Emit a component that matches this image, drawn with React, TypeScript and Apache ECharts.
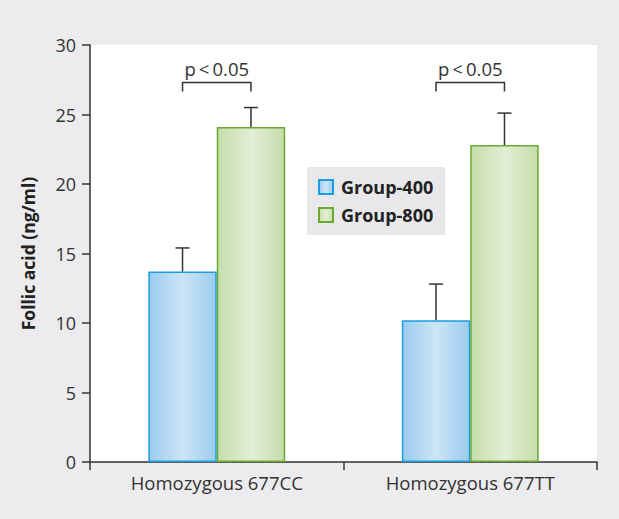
import React, { useEffect, useRef } from "react";
import * as echarts from "echarts";

const categories = ["Homozygous 677CC", "Homozygous 677TT"];
const group400 = [13.7, 10.2];
const group400Err = [15.4, 12.8];
const group800 = [24.1, 22.8];
const group800Err = [25.5, 25.1];
const bracketY = [27.3, 27.3];
const pLabels = ["p\u2009<\u20090.05", "p\u2009<\u20090.05"];
const yTicks = { min: 0, max: 30, interval: 5 };

const FONT = "'Open Sans', 'Noto Sans', sans-serif";
const BAR_PCT = 0.27;

export default function App() {
  const ref = useRef<HTMLDivElement>(null);
  useEffect(() => {
    if (!ref.current) return;
    const chart = echarts.init(ref.current, null, { renderer: "svg" });
    const blueFill = new echarts.graphic.LinearGradient(0, 0, 1, 0, [
      { offset: 0, color: "#9bcbee" },
      { offset: 0.5, color: "#cde5f6" },
      { offset: 1, color: "#9bcbee" },
    ]);
    const greenFill = new echarts.graphic.LinearGradient(0, 0, 1, 0, [
      { offset: 0, color: "#c6ddab" },
      { offset: 0.5, color: "#e3eed6" },
      { offset: 1, color: "#c6ddab" },
    ]);
    const errSeries = (vals: number[], tops: number[], side: number) => ({
      type: "custom",
      silent: true,
      z: 1,
      data: vals.map((v, i) => [i, v, tops[i]]),
      renderItem: (params: any, api: any) => {
        const band = api.size([1, 0])[0];
        const c0 = api.coord([api.value(0), api.value(1)]);
        const c1 = api.coord([api.value(0), api.value(2)]);
        const x = c0[0] + side * band * BAR_PCT * 0.5;
        const style = { stroke: "#333", lineWidth: 1.5 };
        return {
          type: "group",
          children: [
            { type: "line", shape: { x1: x, y1: c0[1], x2: x, y2: c1[1] }, style },
            { type: "line", shape: { x1: x - 7, y1: c1[1], x2: x + 7, y2: c1[1] }, style },
          ],
        };
      },
    });
    chart.setOption({
      animation: false,
      backgroundColor: "#ececee",
      grid: {
        left: 90,
        right: 22,
        top: 45,
        bottom: 57,
        show: true,
        backgroundColor: "#ffffff",
        borderWidth: 0,
      },
      legend: {
        orient: "vertical",
        left: 307,
        top: 167,
        backgroundColor: "#e8e8ea",
        padding: [11, 12, 11, 11],
        itemGap: 10,
        itemWidth: 14,
        itemHeight: 14,
        icon: "rect",
        data: ["Group-400", "Group-800"],
        textStyle: { fontFamily: FONT, fontSize: 18, fontWeight: "bold", color: "#222", padding: [0, 0, 0, 3] },
      },
      xAxis: {
        type: "category",
        data: categories,
        axisLine: { lineStyle: { color: "#333", width: 1.5 } },
        axisTick: { show: true, length: 8, lineStyle: { color: "#333", width: 1.5 } },
        axisLabel: { fontFamily: FONT, fontSize: 18.5, color: "#333", margin: 11 },
      },
      yAxis: {
        type: "value",
        min: yTicks.min,
        max: yTicks.max,
        interval: yTicks.interval,
        name: "Follic acid (ng/ml)",
        nameLocation: "middle",
        nameGap: 53,
        nameTextStyle: { fontFamily: FONT, fontSize: 17.5, fontWeight: "bold", color: "#222" },
        splitLine: { show: false },
        axisLine: { show: true, lineStyle: { color: "#333", width: 1.5 } },
        axisTick: { show: true, length: 8, lineStyle: { color: "#333", width: 1.5 } },
        axisLabel: { fontFamily: FONT, fontSize: 18, color: "#333", margin: 14 },
      },
      series: [
        {
          name: "Group-400",
          type: "bar",
          data: group400,
          barWidth: "27%",
          barGap: "0%",
          z: 2,
          itemStyle: { color: blueFill, borderColor: "#1b9de2", borderWidth: 1.5 },
        },
        {
          name: "Group-800",
          type: "bar",
          data: group800,
          barWidth: "27%",
          barGap: "0%",
          z: 2,
          itemStyle: { color: greenFill, borderColor: "#6aaa2e", borderWidth: 1.5 },
        },
        errSeries(group400, group400Err, -1),
        errSeries(group800, group800Err, 1),
        {
          type: "custom",
          silent: true,
          data: bracketY.map((v, i) => [i, v]),
          renderItem: (params: any, api: any) => {
            const band = api.size([1, 0])[0];
            const c = api.coord([api.value(0), api.value(1)]);
            const off = band * BAR_PCT * 0.5;
            const style = { stroke: "#333", lineWidth: 1.5, fill: "none" };
            return {
              type: "group",
              children: [
                {
                  type: "polyline",
                  shape: { points: [[c[0] - off, c[1] + 9], [c[0] - off, c[1]], [c[0] + off, c[1]], [c[0] + off, c[1] + 9]] },
                  style,
                },
                {
                  type: "text",
                  x: c[0],
                  y: c[1] - 5,
                  style: {
                    text: pLabels[params.dataIndex],
                    fontFamily: FONT,
                    fontSize: 18.5,
                    fill: "#333",
                    align: "center",
                    verticalAlign: "bottom",
                  },
                },
              ],
            };
          },
        },
      ],
    });
    return () => chart.dispose();
  }, []);
  return <div ref={ref} style={{ width: 619, height: 519, position: "absolute", left: 0, top: 0 }} />;
}
